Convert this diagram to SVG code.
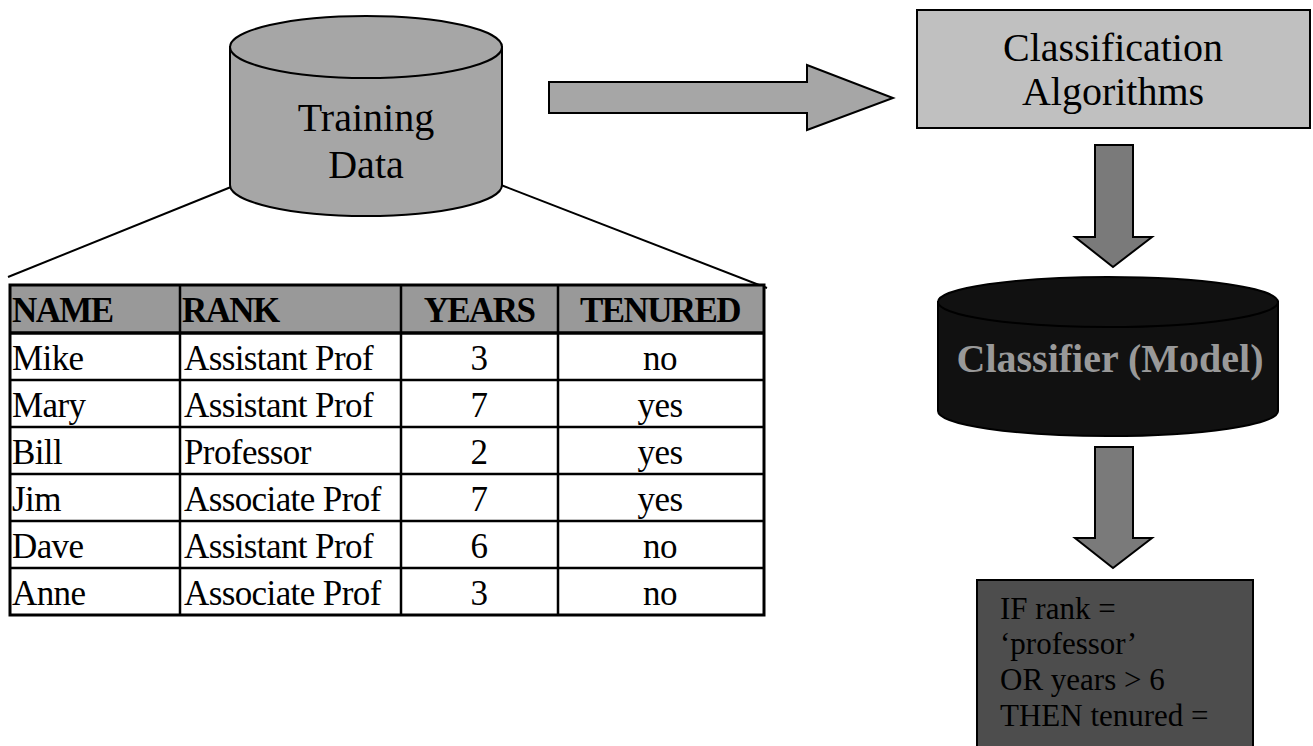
<svg xmlns="http://www.w3.org/2000/svg" width="1313" height="746" viewBox="0 0 1313 746">
  <style>
    .serif { font-family: "Liberation Serif", "Times New Roman", serif; }
    .big { font-size: 40px; fill: #000; }
    .cell { font-size: 35px; letter-spacing: -0.6px; fill: #000; }
    .head { font-size: 35px; font-weight: bold; letter-spacing: -1.6px; fill: #000; }
    .rule { font-size: 31px; fill: #000; }
    .edge { stroke: #000; stroke-width: 2; fill: none; }
    .grid { stroke: #000; stroke-width: 2.5; }
  </style>
  <rect width="1313" height="746" fill="#fff"/>

  <!-- connectors: lines from the data store to the table, and the block arrows -->
  <g id="connectors">
    <line class="edge" x1="231" y1="187" x2="8" y2="277"/>
    <line class="edge" x1="501" y1="185" x2="767" y2="288"/>
    <polygon points="549,82 807,82 807,65 893,98 807,130 807,113 549,113" fill="#a6a6a6" stroke="#000" stroke-width="2"/>
    <polygon points="1095,145 1133,145 1133,237 1152,237 1113,267 1075,237 1095,237" fill="#7a7a7a" stroke="#000" stroke-width="2"/>
    <polygon points="1095,447 1133,447 1133,538 1152,538 1113,568 1075,538 1095,538" fill="#7a7a7a" stroke="#000" stroke-width="2"/>
  </g>

  <!-- training data store -->
  <g id="training-data">
    <path d="M230,47 L230,185 A136,31 0 0 0 502,185 L502,47 Z" fill="#a6a6a6" stroke="#000" stroke-width="2"/>
    <ellipse cx="366" cy="47" rx="136" ry="31" fill="#a6a6a6" stroke="#000" stroke-width="2"/>
    <text class="serif big" x="366" y="131" text-anchor="middle">Training</text>
    <text class="serif big" x="366" y="178" text-anchor="middle">Data</text>
  </g>

  <!-- algorithm box -->
  <g id="classification-algorithms">
    <rect x="917" y="10" width="393" height="118" fill="#c0c0c0" stroke="#000" stroke-width="2"/>
    <text class="serif big" x="1113" y="61" text-anchor="middle">Classification</text>
    <text class="serif big" x="1113" y="105" text-anchor="middle">Algorithms</text>
  </g>

  <!-- learned model store -->
  <g id="classifier-model">
    <path d="M938,302 L938,411 A170,25 0 0 0 1278,411 L1278,302 Z" fill="#111" stroke="#000" stroke-width="2"/>
    <ellipse cx="1108" cy="302" rx="170" ry="25" fill="#111" stroke="#000" stroke-width="2"/>
    <text class="serif" x="1110" y="372" text-anchor="middle" font-size="40" font-weight="bold" fill="#999">Classifier (Model)</text>
  </g>

  <!-- rule output -->
  <g id="rule">
    <rect x="977" y="580" width="276" height="180" fill="#4d4d4d" stroke="#000" stroke-width="2"/>
    <text class="serif rule" x="1000" y="619">IF rank =</text>
    <text class="serif rule" x="1000" y="654">‘professor’</text>
    <text class="serif rule" x="1000" y="690">OR years &gt; 6</text>
    <text class="serif rule" x="1000" y="726">THEN tenured =</text>
  </g>

  <!-- training table -->
  <g id="training-table">
    <rect x="10" y="285" width="754" height="48" fill="#999"/>
    <rect x="10" y="333" width="754" height="282" fill="#fff"/>
    <g class="grid">
      <line x1="10" y1="333" x2="764" y2="333" stroke-width="3.5"/>
      <line x1="10" y1="380" x2="764" y2="380"/>
      <line x1="10" y1="427" x2="764" y2="427"/>
      <line x1="10" y1="474" x2="764" y2="474"/>
      <line x1="10" y1="521" x2="764" y2="521"/>
      <line x1="10" y1="568" x2="764" y2="568"/>
      <line x1="180" y1="285" x2="180" y2="615"/>
      <line x1="401" y1="285" x2="401" y2="615"/>
      <line x1="558" y1="285" x2="558" y2="615"/>
    </g>
    <rect x="10" y="285" width="754" height="330" fill="none" stroke="#000" stroke-width="3"/>
    <g class="serif head">
      <text x="12" y="322">NAME</text>
      <text x="182" y="322">RANK</text>
      <text x="479" y="322" text-anchor="middle">YEARS</text>
      <text x="660" y="322" text-anchor="middle">TENURED</text>
    </g>
    <g class="serif cell">
      <text x="12" y="370">Mike</text>
      <text x="184" y="370">Assistant Prof</text>
      <text x="479" y="370" text-anchor="middle">3</text>
      <text x="660" y="370" text-anchor="middle">no</text>
      <text x="12" y="417">Mary</text>
      <text x="184" y="417">Assistant Prof</text>
      <text x="479" y="417" text-anchor="middle">7</text>
      <text x="660" y="417" text-anchor="middle">yes</text>
      <text x="12" y="464">Bill</text>
      <text x="184" y="464">Professor</text>
      <text x="479" y="464" text-anchor="middle">2</text>
      <text x="660" y="464" text-anchor="middle">yes</text>
      <text x="12" y="511">Jim</text>
      <text x="184" y="511">Associate Prof</text>
      <text x="479" y="511" text-anchor="middle">7</text>
      <text x="660" y="511" text-anchor="middle">yes</text>
      <text x="12" y="558">Dave</text>
      <text x="184" y="558">Assistant Prof</text>
      <text x="479" y="558" text-anchor="middle">6</text>
      <text x="660" y="558" text-anchor="middle">no</text>
      <text x="12" y="605">Anne</text>
      <text x="184" y="605">Associate Prof</text>
      <text x="479" y="605" text-anchor="middle">3</text>
      <text x="660" y="605" text-anchor="middle">no</text>
    </g>
  </g>
</svg>
